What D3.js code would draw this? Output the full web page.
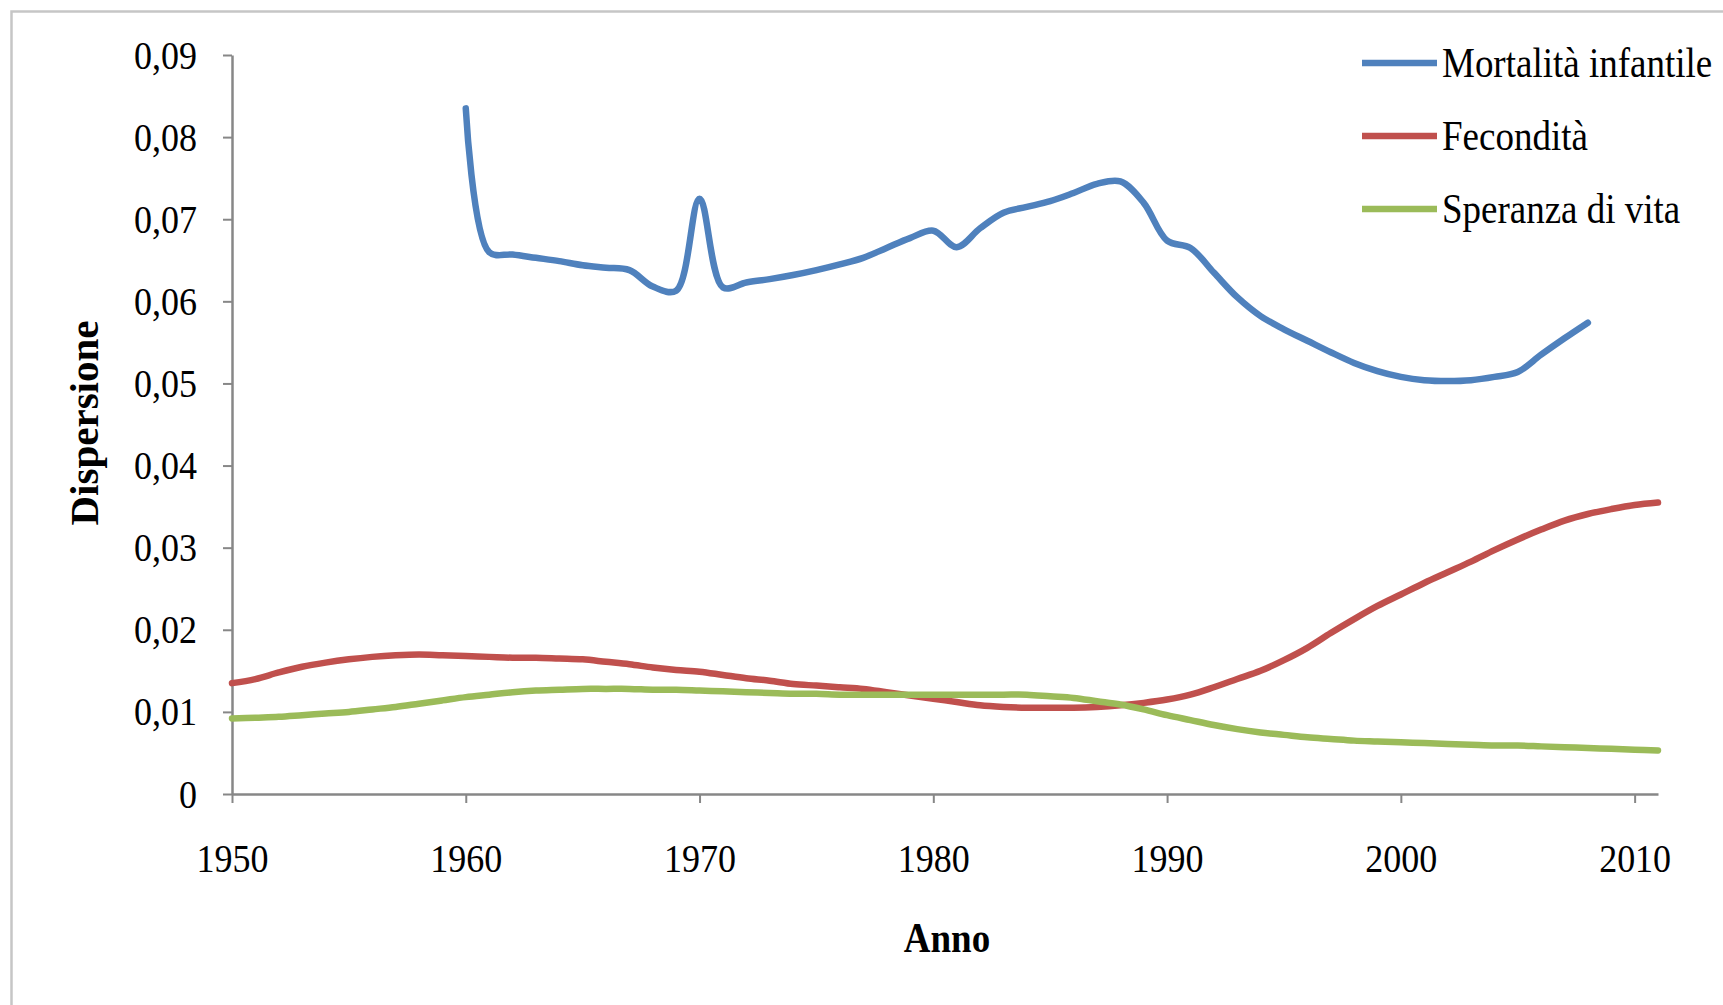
<!DOCTYPE html>
<html>
<head>
<meta charset="utf-8">
<script src="https://cdn.jsdelivr.net/npm/d3@7"></script>
<style>
  body { margin: 0; background: #fff; }
  svg { display: block; }
  text { font-family: "Liberation Serif", "Times New Roman", serif; fill: #000; }
  .tall { transform-box: fill-box; transform-origin: center; transform: scaleY(1.13); }
</style>
</head>
<body>
<div id="chart"></div>
<script>
// Data
var mortYears = d3.range(1960, 2009);
var mortalita = [0.0835, 0.0660, 0.0657, 0.0653, 0.0649, 0.0644, 0.0641, 0.0638, 0.0618, 0.0613,
                 0.0725, 0.0617, 0.0623, 0.0627, 0.0632, 0.0638, 0.0645, 0.0653, 0.0665, 0.0677,
                 0.0686, 0.0666, 0.0689, 0.0708, 0.0715, 0.0722, 0.0732, 0.0743, 0.0746, 0.0720,
                 0.0674, 0.0665, 0.0635, 0.0605, 0.0582, 0.0566, 0.0552, 0.0538, 0.0525, 0.0515,
                 0.0508, 0.0504, 0.0503, 0.0504, 0.0508, 0.0514, 0.0535, 0.0555, 0.0574];

var fecYears = d3.range(1950, 2012);
var fecondita = [0.0135, 0.0140, 0.0148, 0.0155, 0.0160, 0.0164, 0.0167, 0.0169, 0.0170, 0.0169,
                 0.0168, 0.0167, 0.0166, 0.0166, 0.0165, 0.0164, 0.0161, 0.0158, 0.0154, 0.0151,
                 0.0149, 0.0145, 0.0141, 0.0138, 0.0134, 0.0132, 0.0130, 0.0128, 0.0124, 0.0120,
                 0.0116, 0.0112, 0.0108, 0.0106, 0.0105, 0.0105, 0.0105, 0.0106, 0.0108, 0.0111,
                 0.0115, 0.0121, 0.0130, 0.0140, 0.0150, 0.0163, 0.0178, 0.0196, 0.0213, 0.0229,
                 0.0243, 0.0257, 0.0270, 0.0283, 0.0297, 0.0310, 0.0322, 0.0333, 0.0341, 0.0347,
                 0.0352, 0.0355];

var sperYears = d3.range(1950, 2012);
var speranza = [0.0092, 0.0093, 0.0094, 0.0096, 0.0098, 0.0100, 0.0103, 0.0106, 0.0110, 0.0114,
                0.0118, 0.0121, 0.0124, 0.0126, 0.0127, 0.0128, 0.0128, 0.0128, 0.0127, 0.0127,
                0.0126, 0.0125, 0.0124, 0.0123, 0.0122, 0.0122, 0.0121, 0.0121, 0.0121, 0.0121,
                0.0121, 0.0121, 0.0121, 0.0121, 0.0121, 0.0119, 0.0117, 0.0113, 0.0109, 0.0103,
                0.0096, 0.0090, 0.0084, 0.0079, 0.0075, 0.0072, 0.0069, 0.0067, 0.0065, 0.0064,
                0.0063, 0.0062, 0.0061, 0.0060, 0.0059, 0.0059, 0.0058, 0.0057, 0.0056, 0.0055,
                0.0054, 0.0053];

var yTicks = [0, 0.01, 0.02, 0.03, 0.04, 0.05, 0.06, 0.07, 0.08, 0.09];
var yTickLabels = ["0", "0,01", "0,02", "0,03", "0,04", "0,05", "0,06", "0,07", "0,08", "0,09"];
var xTicks = [1950, 1960, 1970, 1980, 1990, 2000, 2010];

var seriesNames = ["Mortalità infantile", "Fecondità", "Speranza di vita"];
var seriesColors = ["#4f81bd", "#c0504d", "#9bbb59"];

var series = [
    {name: seriesNames[0], color: seriesColors[0], values: mortYears.map(function(d, i) { return {year: d, v: mortalita[i]}; })},
    {name: seriesNames[1], color: seriesColors[1], values: fecYears.map(function(d, i) { return {year: d, v: fecondita[i]}; })},
    {name: seriesNames[2], color: seriesColors[2], values: sperYears.map(function(d, i) { return {year: d, v: speranza[i]}; })}
];

var full_width = 1723, full_height = 1005;
var margin = {top: 55, right: 65, bottom: 211, left: 232};
var width = full_width - margin.left - margin.right,
    height = full_height - margin.top - margin.bottom;

var svg = d3.select("#chart")
    .append("svg")
    .attr("width", full_width)
    .attr("height", full_height);

// outer frame
svg.append("rect")
    .attr("x", 11.5)
    .attr("y", 11.5)
    .attr("width", full_width + 20)
    .attr("height", full_height + 20)
    .style("fill", "none")
    .style("stroke", "#c6c6c6")
    .style("stroke-width", 2.5);

var g = svg.append("g")
    .attr("transform", "translate(" + margin.left + "," + margin.top + ")");

var x = d3.scaleLinear().domain([1950, 2011]).range([0, width]);
var y = d3.scaleLinear().domain([0, 0.09]).range([height, 0]);

// Y axis
var yAxis = g.append("g")
    .call(d3.axisLeft(y)
        .tickValues(yTicks)
        .tickFormat(function(d, i) { return yTickLabels[i]; })
        .tickSize(9)
        .tickSizeOuter(0)
        .tickPadding(26));

// X axis
var xAxis = g.append("g")
    .attr("transform", "translate(0," + height + ")")
    .call(d3.axisBottom(x)
        .tickValues(xTicks)
        .tickFormat(d3.format("d"))
        .tickSize(9)
        .tickSizeOuter(0)
        .tickPadding(42));

[yAxis, xAxis].forEach(function(ax) {
    ax.select(".domain").style("stroke", "#878787").style("stroke-width", 2.5);
    ax.selectAll(".tick line").style("stroke", "#878787").style("stroke-width", 2);
    ax.selectAll(".tick text")
        .attr("class", "tall")
        .style("font-family", "'Liberation Serif', 'Times New Roman', serif")
        .style("font-size", "36px")
        .style("fill", "#000");
});

// lines
var line = d3.line()
    .x(function(d) { return x(d.year); })
    .y(function(d) { return y(d.v); })
    .curve(d3.curveCatmullRom.alpha(0.5));

g.selectAll(".serie")
    .data(series)
    .enter()
    .append("path")
    .attr("class", "serie")
    .attr("d", function(d) { return line(d.values); })
    .style("fill", "none")
    .style("stroke", function(d) { return d.color; })
    .style("stroke-width", 6.5)
    .style("stroke-linejoin", "round")
    .style("stroke-linecap", "round");

// axis titles
svg.append("text")
    .attr("class", "tall")
    .attr("x", 947)
    .attr("y", 950)
    .style("text-anchor", "middle")
    .style("font-weight", "bold")
    .style("font-size", "37px")
    .text("Anno");

svg.append("text")
    .attr("transform", "translate(98,423) rotate(-90)")
    .style("text-anchor", "middle")
    .style("font-weight", "bold")
    .style("font-size", "41px")
    .text("Dispersione");

// legend
var legend = svg.selectAll(".legend")
    .data(series)
    .enter()
    .append("g")
    .attr("class", "legend")
    .attr("transform", function(d, i) { return "translate(1362," + (63 + i * 73) + ")"; });

legend.append("line")
    .attr("x1", 0)
    .attr("x2", 75)
    .style("stroke", function(d) { return d.color; })
    .style("stroke-width", 6.5);

legend.append("text")
    .attr("class", "tall")
    .attr("x", 80)
    .attr("y", 12)
    .style("font-size", "37px")
    .text(function(d) { return d.name; });
</script>
</body>
</html>
